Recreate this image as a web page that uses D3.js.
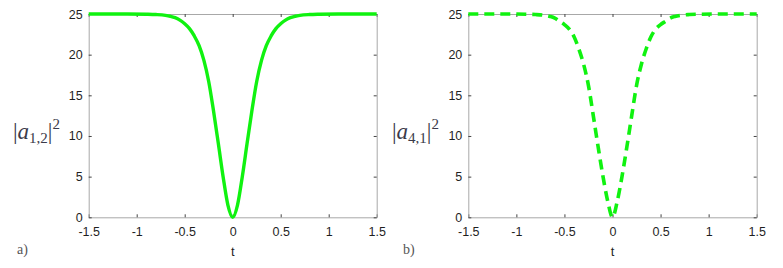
<!DOCTYPE html>
<html>
<head>
<meta charset="utf-8">
<script src="https://cdn.jsdelivr.net/npm/d3@7"></script>
<style>
  body { margin: 0; background: #fff; }
  svg { display: block; }
</style>
</head>
<body>
<div id="chart"></div>
<script>
"use strict";

// values
var tValues = [-1.5, -1.3, -1.1, -0.9, -0.8, -0.7, -0.65, -0.6, -0.55, -0.5, -0.45, -0.4, -0.35, -0.3, -0.25, -0.2, -0.15, -0.1, -0.05,
  0, 0.05, 0.1, 0.15, 0.2, 0.25, 0.3, 0.35, 0.4, 0.45, 0.5, 0.55, 0.6, 0.65, 0.7, 0.8, 0.9, 1.1, 1.3, 1.5];
var a12Values = [25, 25, 25, 24.97, 24.93, 24.83, 24.72, 24.55, 24.25, 23.8, 23.2, 22.3, 21.1, 19.3, 16.7, 13.1, 9.1, 5.0, 1.5,
  0, 1.5, 5.0, 9.1, 13.1, 16.7, 19.3, 21.1, 22.3, 23.2, 23.8, 24.25, 24.55, 24.72, 24.83, 24.93, 24.97, 25, 25, 25];
var a41Values = [25, 25, 25, 24.97, 24.93, 24.82, 24.7, 24.5, 24.1, 23.7, 23.15, 22.2, 20.7, 18.8, 16.2, 12.5, 8.7, 5.1, 2.0,
  0, 2.0, 5.1, 8.7, 12.5, 16.2, 18.8, 20.7, 22.2, 23.15, 23.7, 24.1, 24.5, 24.7, 24.82, 24.93, 24.97, 25, 25, 25];
var xTicks = [-1.5, -1, -0.5, 0, 0.5, 1, 1.5];
var yTicks = [0, 5, 10, 15, 20, 25];

var width = 783,
  height = 268;

var svg = d3
  .select("#chart")
  .append("svg")
  .attr("width", width)
  .attr("height", height);

var green = "#10f210";
var sans = "'Liberation Sans', Arial, sans-serif";

// style an axis group like matlab: gray box, dark inward ticks
function styleAxis(sel) {
  sel.attr("font-family", sans).attr("font-size", 12.5);
  sel.select(".domain").attr("stroke", "#a8a8a8");
  sel.selectAll(".tick line").attr("stroke", "#444");
  sel.selectAll(".tick text").attr("fill", "#1f1f1f");
}

// one panel = one axes box
function drawPanel(left, right, values, dashed, sub, letter, labelX, letterX) {
  var top = 14,
    bottom = 217.3;
  var x = d3.scaleLinear().domain([-1.5, 1.5]).range([left, right]);
  var y = d3.scaleLinear().domain([0, 25]).range([bottom, top]);
  var fmt = function(d) { return String(d); };

  var g = svg.append("g");

  // inward ticks on all four sides
  g.append("g")
    .attr("transform", "translate(0," + bottom + ")")
    .call(d3.axisBottom(x).tickValues(xTicks).tickFormat(fmt).tickSizeInner(-3).tickSizeOuter(0).tickPadding(10))
    .call(styleAxis);
  g.append("g")
    .attr("transform", "translate(0," + top + ")")
    .call(d3.axisTop(x).tickValues(xTicks).tickFormat("").tickSizeInner(-3).tickSizeOuter(0))
    .call(styleAxis);
  g.append("g")
    .attr("transform", "translate(" + left + ",0)")
    .call(d3.axisLeft(y).tickValues(yTicks).tickFormat(fmt).tickSizeInner(-3).tickSizeOuter(0).tickPadding(6))
    .call(styleAxis);
  g.append("g")
    .attr("transform", "translate(" + right + ",0)")
    .call(d3.axisRight(y).tickValues(yTicks).tickFormat("").tickSizeInner(-3).tickSizeOuter(0))
    .call(styleAxis);

  var line = d3
    .line()
    .x(function(d, i) { return x(tValues[i]); })
    .y(function(d) { return y(d); })
    .curve(d3.curveMonotoneX);

  g.append("path")
    .datum(values)
    .attr("fill", "none")
    .attr("stroke", green)
    .attr("stroke-width", dashed ? 3.6 : 3.4)
    .attr("stroke-dasharray", dashed ? "10,6" : null)
    .attr("d", line);

  // x label
  g.append("text")
    .attr("x", x(0))
    .attr("y", 256)
    .attr("text-anchor", "middle")
    .attr("font-family", sans)
    .attr("font-size", 13)
    .attr("fill", "#1f1f1f")
    .text("t");

  // y label |a_{i,j}|^2
  var yl = g.append("text")
    .attr("x", labelX)
    .attr("y", 139)
    .attr("font-family", "'Liberation Serif', serif")
    .attr("font-size", 23)
    .attr("fill", "#3a3a4a");
  yl.append("tspan").text("|");
  yl.append("tspan").attr("font-style", "italic").text("a");
  yl.append("tspan").attr("dy", 4).attr("font-size", 15).text(sub);
  yl.append("tspan").attr("dy", -4).text("|");
  yl.append("tspan").attr("dy", -10).attr("font-size", 15).text("2");

  // panel letter
  g.append("text")
    .attr("x", letterX)
    .attr("y", 254)
    .attr("font-family", "'Liberation Serif', serif")
    .attr("font-size", 14)
    .attr("fill", "#555")
    .text(letter);
}

drawPanel(88.7, 376.7, a12Values, false, "1,2", "a)", 13, 17);
drawPanel(468.3, 756.7, a41Values, true, "4,1", "b)", 392, 403);
</script>
</body>
</html>
